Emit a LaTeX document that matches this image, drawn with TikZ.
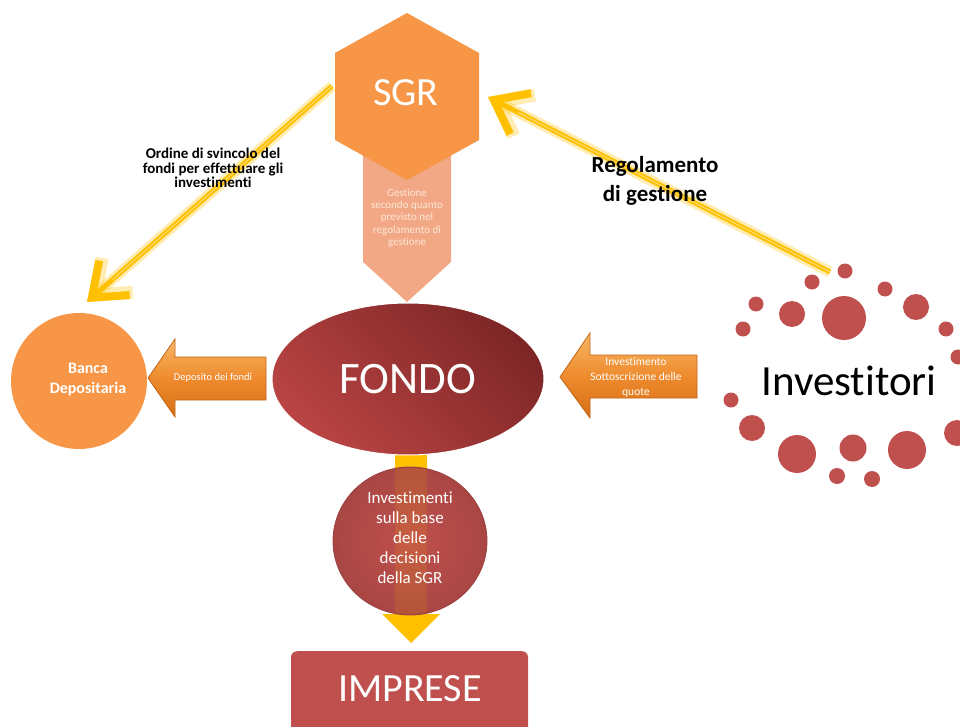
\documentclass[tikz,border=0pt]{standalone}
\usepackage{fontspec}
\setmainfont{Carlito}[Ligatures=NoCommon]
\usetikzlibrary{arrows.meta,shapes.geometric}
\definecolor{amber}{HTML}{FFC000}
\definecolor{amberlight}{HTML}{FFDD70}
\definecolor{orangeA}{HTML}{F79646}
\definecolor{chev}{HTML}{F2A884}
\definecolor{chevtext}{HTML}{FCE6D8}
\definecolor{redA}{HTML}{C0504D}
\definecolor{redDark}{HTML}{7E2626}
\definecolor{redLight}{HTML}{BA4444}
\definecolor{barTop}{HTML}{F9B866}
\definecolor{barMid}{HTML}{EE8B2E}
\definecolor{barBot}{HTML}{D86F14}
\definecolor{barEdge}{HTML}{C0661A}
\tikzset{
  yarrow/.style={draw=amber, line width=5pt,
    -{Straight Barb[length=30pt,width=46pt,line width=8pt]},
    preaction={draw=amber, opacity=0.3, line width=11pt,
      -{Straight Barb[length=30pt,width=46pt,line width=13pt]}},
    postaction={draw=amberlight, line width=1pt, -, shorten >=34pt}},
  blockarrow/.style={top color=barTop, bottom color=barBot, middle color=barMid,
    draw=barEdge, line width=0.8pt},
  lighttext/.style={text=white, inner sep=0pt},
}
\begin{document}
\begin{tikzpicture}[x=1pt,y=-1pt]
\useasboundingbox (0,0) rectangle (960,727);
\clip (0,0) rectangle (960,727);

% management chevron under the SGR hexagon
\fill[chev] (363,140) -- (451,140) -- (451,262) -- (407,302) -- (363,262) -- cycle;
\node[text=chevtext, inner sep=0pt, align=center, font=\fontsize{11}{12.3}\selectfont]
  (gest) at (407,218) {Gestione\\secondo quanto\\previsto nel\\regolamento di\\gestione};

% SGR hexagon
\fill[orangeA] (407,13) -- (479,53) -- (479,140) -- (407,180) -- (335,140) -- (335,53) -- cycle;
\node[lighttext, font=\fontsize{40}{40}\selectfont] (sgr) at (406,93) {SGR};

% yellow arrow down from FONDO to IMPRESE (behind the round node)
\fill[amber] (395,450) -- (427,450) -- (427,614) -- (440,614) -- (411,643) -- (382,614) -- (395,614) -- cycle;

% FONDO
\node[ellipse, minimum width=272pt, minimum height=152pt, draw=white, line width=1pt,
  top color=redDark, bottom color=redLight, shading angle=-45,
  text=white, font=\fontsize{45}{45}\selectfont] (fondo) at (408,379) {FONDO};

% investment decisions, with the arrow faintly showing through
\node[ellipse, minimum width=154pt, minimum height=148pt, inner color=redA, outer color=redA!88!black,
  draw=redA!80!black, line width=0.8pt] (decis) at (410,541) {};
\begin{scope}
  \clip (410,541) ellipse[x radius=76pt, y radius=73pt];
  \fill[amber, opacity=0.12] (395,460) rectangle (427,620);
\end{scope}
\node[lighttext, align=center, font=\fontsize{17}{20}\selectfont] (decistext) at (410,538)
  {Investimenti\\sulla base\\delle\\decisioni\\della SGR};

% IMPRESE
\node[rectangle, rounded corners=6pt, fill=redA, minimum width=237pt, minimum height=95pt,
  anchor=north] (imprese) at (409.5,651) {};
\node[lighttext, font=\fontsize{40}{40}\selectfont] (impresetext) at (410,689) {IMPRESE};

% Banca Depositaria
\node[circle, fill=orangeA, minimum size=136pt] (banca) at (79,381) {};
\node[lighttext, align=center, font=\bfseries\fontsize{16}{20}\selectfont] (bancatext) at (88,380)
  {Banca\\Depositaria};

% block arrows into and out of FONDO
\path[blockarrow] (148,378) -- (175,339) -- (175,357) -- (266,357) -- (266,400) -- (175,400) -- (175,417) -- cycle;
\node[lighttext, font=\fontsize{10.5}{12}\selectfont] (depos) at (213,378) {Deposito dei fondi};
\path[blockarrow] (560,377) -- (590,333) -- (590,355) -- (697,355) -- (697,398) -- (590,398) -- (590,418) -- cycle;
\node[lighttext, align=center, font=\fontsize{11.5}{15}\selectfont] (sottos) at (636,377)
  {Investimento\\Sottoscrizione delle\\quote};

% Investitori ring of dots
\foreach \x/\y/\r in {812/282/7.5, 845/271/7.5, 885/289/7.5, 756/304/7.5, 792/314/13,
  844/318/22, 916/307/13, 743/329/7.5, 946/329/7.5, 958/357/7.5, 731/400/7.5,
  752/428/13, 797/454/19, 853/448/13.5, 907/450/19, 957/433/13, 837/476/8, 872/479/8}
  \fill[redA] (\x,\y) circle[radius=\r pt];
\node[inner sep=0pt, font=\fontsize{43}{43}\selectfont] (invest) at (849,381) {Investitori};

% yellow connectors
\coordinate (sgrW) at (332,86);
\coordinate (bancaN) at (87,302);
\coordinate (investNW) at (830,272);
\coordinate (sgrE) at (488,97);
\draw[yarrow] (sgrW) -- (bancaN);
\draw[yarrow] (investNW) -- (sgrE);

% connector labels
\node[inner sep=0pt, align=center, font=\bfseries\fontsize{15}{14.5}\selectfont] (ordine) at (213,168)
  {Ordine di svincolo del\\fondi per effettuare gli\\investimenti};
\node[inner sep=0pt, align=center, font=\bfseries\fontsize{23}{29}\selectfont] (regol) at (655,181)
  {Regolamento\\di gestione};
\end{tikzpicture}
\end{document}
